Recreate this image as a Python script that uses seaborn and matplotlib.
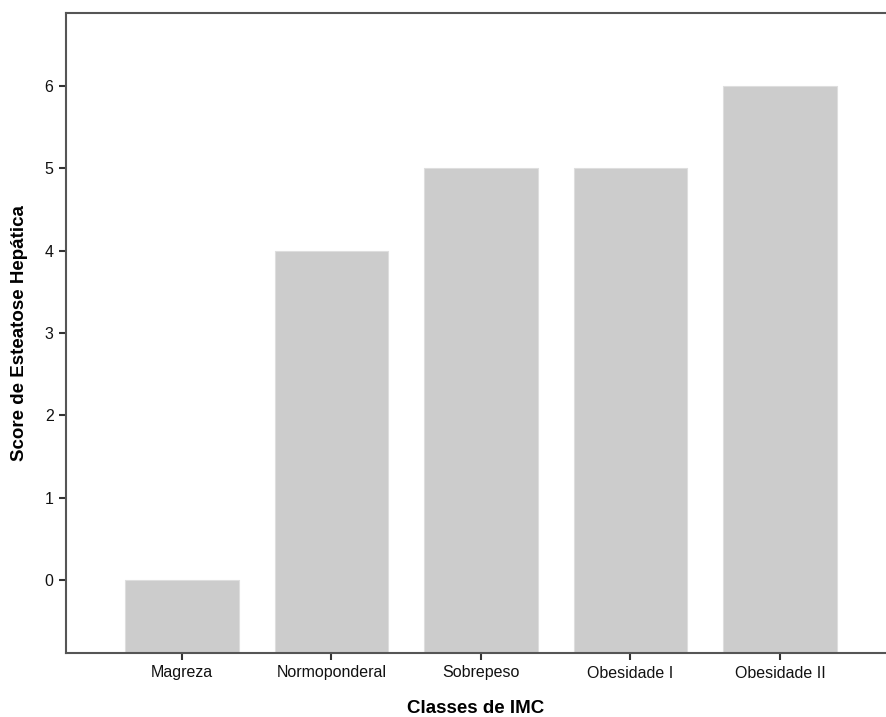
import seaborn as sns
import matplotlib.pyplot as plt
import pandas as pd

# Dados
classes = ["Magreza", "Normoponderal", "Sobrepeso", "Obesidade I", "Obesidade II"]
scores = [0, 4, 5, 5, 6]

y_min, y_max = -0.887, 6.887

df = pd.DataFrame({"classe": classes, "score": scores})
df["altura"] = df["score"] - y_min

sns.set_theme(style="white")
plt.rcParams["font.family"] = ["Liberation Sans", "DejaVu Sans"]

fig = plt.figure(figsize=(8.86, 7.17), dpi=100)
ax = fig.add_axes([66 / 886, 1 - 653 / 717, 1 - 66 / 886, (653 - 13) / 717])

sns.barplot(data=df, x="classe", y="altura", color="#cccccc", saturation=1,
            width=0.76, bottom=y_min, edgecolor="#dedede", linewidth=0.8, ax=ax)

ax.set_ylim(y_min, y_max)
ax.set_xlim(-0.776, 4.71)
ax.set_yticks(range(0, 7))

for s in ["left", "bottom", "top"]:
    ax.spines[s].set_color("#555555")
    ax.spines[s].set_linewidth(1.5)
ax.spines["right"].set_visible(False)

ax.tick_params(axis="both", length=5, width=1.5, color="#333333",
               labelsize=11.5, labelcolor="#111111", direction="out", pad=4)
ax.tick_params(left=True, bottom=True)

ax.set_xlabel("Classes de IMC", fontsize=13.5, fontweight="bold", labelpad=14, color="#000000")
ax.set_ylabel("Score de Esteatose Hepática", fontsize=13.5, fontweight="bold", labelpad=12, color="#000000")

fig.savefig("out.png", dpi=100)
